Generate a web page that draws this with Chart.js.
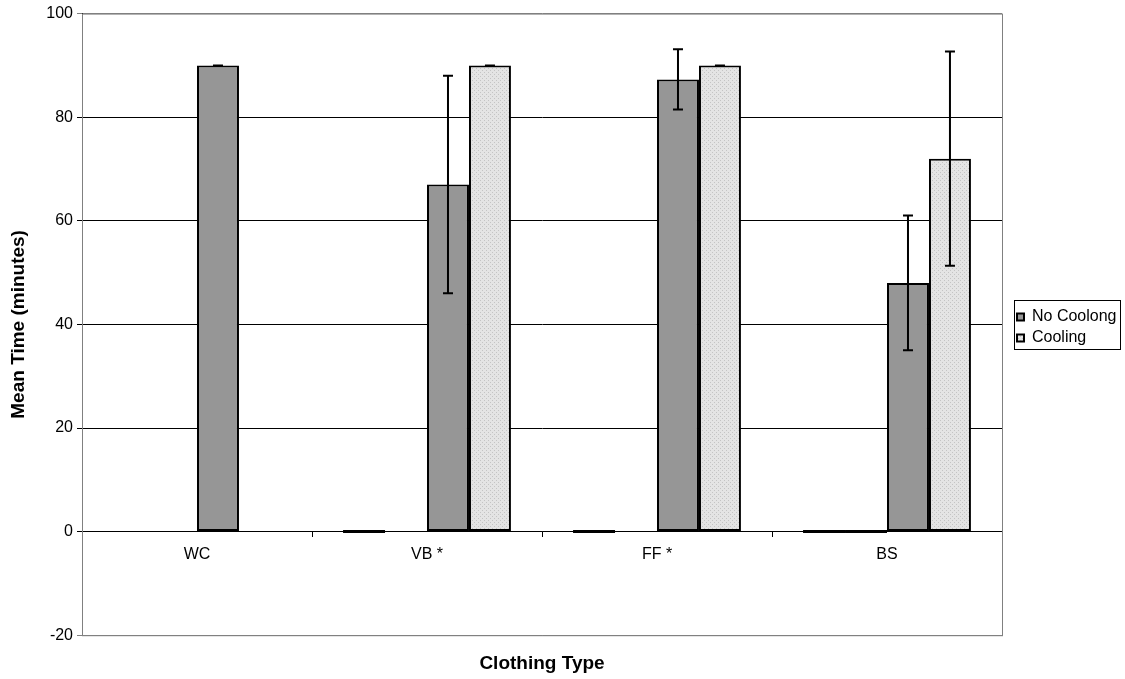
<!DOCTYPE html>
<html>
<head>
<meta charset="utf-8">
<script src="https://cdn.jsdelivr.net/npm/chart.js@4.4.1/dist/chart.umd.min.js"></script>
<style>
  body { margin: 0; background: #fff; }
  #wrap { width: 1125px; height: 679px; }
</style>
</head>
<body>
<div id="wrap"><canvas id="chart1"></canvas></div>
<script>
const categories = ["WC", "VB *", "FF *", "BS"];
// two unnamed helper series (zero values) and the two real ones
const zeroSeriesA = [null, 0, 0, 0];
const zeroSeriesB = [null, null, null, 0];
const noCooling = [90, 67, 87.3, 48];
const noCoolingErr = [0, 21, 5.8, 13];
const cooling = [null, 90, 90, 72];
const coolingErr = [null, 0, 0, 20.7];
const yTicks = [-20, 0, 20, 40, 60, 80, 100];

// dotted light grey fill like the reference
function makePattern() {
    var c = document.createElement("canvas");
    c.width = 4; c.height = 4;
    var g = c.getContext("2d");
    g.fillStyle = "#e4e4e4";
    g.fillRect(0, 0, 4, 4);
    g.fillStyle = "#c4c4c4";
    g.fillRect(0, 0, 1, 1);
    g.fillRect(2, 2, 1, 1);
    return g.createPattern(c, "repeat");
}

const errorBars = {
    id: "errorBars",
    afterDatasetsDraw(chart) {
        const ctx = chart.ctx;
        const y = chart.scales.y;
        chart.data.datasets.forEach((ds, di) => {
            if (!ds.err) return;
            const meta = chart.getDatasetMeta(di);
            ds.data.forEach((v, i) => {
                if (v == null || ds.err[i] == null) return;
                const x = meta.data[i].x;
                const top = y.getPixelForValue(v + ds.err[i]);
                const bot = y.getPixelForValue(v - ds.err[i]);
                ctx.save();
                ctx.strokeStyle = "#000";
                ctx.lineWidth = 2;
                ctx.beginPath();
                ctx.moveTo(x, top); ctx.lineTo(x, bot);
                ctx.moveTo(x - 5, top); ctx.lineTo(x + 5, top);
                ctx.moveTo(x - 5, bot); ctx.lineTo(x + 5, bot);
                ctx.stroke();
                ctx.restore();
            });
        });
    }
};

// grey plot frame, legend placement and legend box
const frame = {
    id: "frame",
    beforeInit(chart) {
        const orig = chart.legend.fit;
        chart.legend.fit = function () {
            orig.bind(chart.legend)();
            this.width = 123;
        };
    },
    beforeDraw(chart) {
        const l = chart.legend, a = chart.chartArea;
        l.left = a.right + 10;
        l.right = l.left + 108;
        l.top = a.top + 3;
        l.bottom = a.bottom + 3;
    },
    beforeDatasetsDraw(chart) {
        const a = chart.chartArea, ctx = chart.ctx;
        ctx.save();
        ctx.strokeStyle = "#808080";
        ctx.lineWidth = 1;
        ctx.strokeRect(a.left + 0.5, a.top + 0.5, a.right - a.left, a.bottom - a.top);
        ctx.restore();
    },
    afterDraw(chart) {
        const l = chart.legend, ctx = chart.ctx;
        const rowTop = ((l.top + 5) + (l.bottom - 42)) / 2;
        const c1 = rowTop + 8, c2 = c1 + 21;
        ctx.save();
        ctx.strokeStyle = "#000";
        ctx.lineWidth = 1;
        ctx.strokeRect(Math.round(l.left) + 2.5, Math.round(c1 - 17) + 0.5, 106, Math.round(c2 + 11 - (c1 - 17)));
        ctx.restore();
    }
};

Chart.defaults.font.family = "'Liberation Sans', Arial, sans-serif";
Chart.defaults.color = "#000";

new Chart(document.getElementById("chart1"), {
    type: "bar",
    data: {
        labels: categories,
        datasets: [
            { label: "a", data: zeroSeriesA, backgroundColor: "#000", borderWidth: 0, minBarLength: 3 },
            { label: "b", data: zeroSeriesB, backgroundColor: "#000", borderWidth: 0, minBarLength: 3 },
            { label: "No Coolong", data: noCooling, err: noCoolingErr, backgroundColor: "#969696",
              borderColor: "#000", borderWidth: 2, borderSkipped: false },
            { label: "Cooling", data: cooling, err: coolingErr, backgroundColor: makePattern(),
              borderColor: "#000", borderWidth: 2, borderSkipped: false }
        ]
    },
    options: {
        responsive: true,
        maintainAspectRatio: false,
        animation: false,
        layout: { padding: { left: 0, right: 0, top: 11, bottom: 4 } },
        datasets: { bar: { categoryPercentage: 0.73, barPercentage: 1 } },
        plugins: {
            legend: {
                position: "right",
                labels: {
                    boxWidth: 7, boxHeight: 7, padding: 5,
                    font: { size: 16 },
                    filter: (item) => item.datasetIndex > 1
                }
            },
            tooltip: { enabled: false }
        },
        scales: {
            x: {
                position: { y: 0 },
                grid: { display: true, drawOnChartArea: false, offset: true, color: "#000", tickLength: 5 },
                border: { color: "#000", width: 1 },
                ticks: { font: { size: 16 }, padding: 8 }
            },
            x2: {
                type: "category",
                labels: categories,
                position: "bottom",
                grid: { display: false },
                border: { display: false },
                ticks: { display: false },
                title: { display: true, text: "Clothing Type", font: { size: 19, weight: "bold" }, padding: { top: 9, bottom: 0 } }
            },
            y: {
                min: -20,
                max: 100,
                afterBuildTicks: (axis) => { axis.ticks = yTicks.map(v => ({ value: v })); },
                afterFit: (axis) => { axis.width = 82; },
                grid: {
                    color: (c) => (c.tick && (c.tick.value === 100 || c.tick.value === -20)) ? "#808080" : "#000",
                    tickLength: 5
                },
                border: { color: "#000", width: 1 },
                ticks: { font: { size: 16 }, padding: 4 },
                title: { display: true, text: "Mean Time (minutes)", font: { size: 19, weight: "bold" }, padding: { top: 7, bottom: 0 } }
            }
        }
    },
    plugins: [errorBars, frame]
});
</script>
</body>
</html>
